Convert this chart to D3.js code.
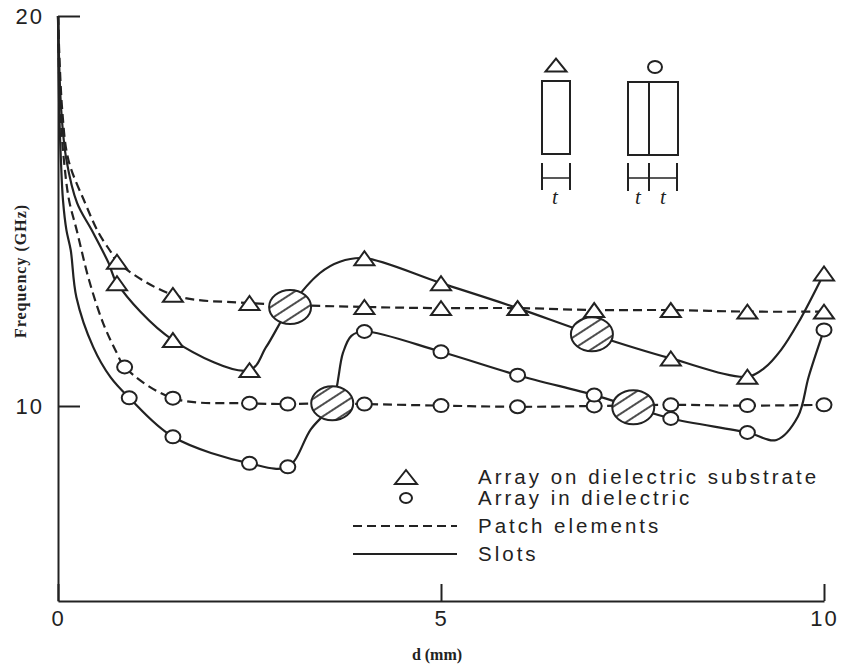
<!DOCTYPE html>
<html>
<head>
<meta charset="utf-8">
<script src="https://cdn.jsdelivr.net/npm/d3@7"></script>
<style>
  body { margin: 0; background: #fff; }
  .axis path, .axis line { stroke: #222; stroke-width: 2; }
  .axis text { font-family: "Liberation Sans", Arial, sans-serif; font-size: 22px; fill: #222; letter-spacing: 2px; }
</style>
</head>
<body>
<svg id="chart" width="841" height="666"></svg>
<script>

// Data

// Patch elements, array on dielectric substrate (dashed line, triangles)
var patchSubX = [0.77, 1.5, 2.5, 4, 5, 6, 7, 8, 9, 10];
var patchSubY = [13.70, 12.85, 12.64, 12.54, 12.51, 12.51, 12.46, 12.46, 12.42, 12.42];
var patchSubTraceX = [0, 0.055, 0.136, 0.355, 0.53, 0.70];
var patchSubTraceY = [20, 17.59, 16.31, 15.2, 14.44, 13.92];

// Slots, array on dielectric substrate (solid line, triangles)
var slotSubX = [0.77, 1.5, 2.5, 4, 5, 6, 8, 9, 10];
var slotSubY = [13.15, 11.69, 10.92, 13.79, 13.15, 12.51, 11.22, 10.75, 13.40];
var slotSubTraceX = [0, 0.042, 0.11, 0.25, 0.44, 0.66, 2.72, 3.03, 3.42, 3.68, 6.97, 9.22, 9.44, 9.66];
var slotSubTraceY = [20, 17.59, 16.31, 15.2, 14.51, 13.67, 11.52, 12.54, 13.41, 13.70, 11.84, 10.97, 11.44, 12.12];

// Patch elements, array in dielectric (dashed line, circles)
var patchInX = [0.87, 1.5, 2.5, 3, 4, 5, 6, 7, 8, 9, 10];
var patchInY = [11.0, 10.20, 10.07, 10.05, 10.05, 10.01, 9.98, 10.0, 10.03, 10.01, 10.03];
var patchInTraceX = [0, 0.029, 0.077, 0.144, 0.244, 0.405, 0.59, 0.77, 3.58];
var patchInTraceY = [20, 17.59, 16.31, 15.28, 14.51, 13.23, 12.12, 11.35, 10.07];

// Slots, array in dielectric (solid line, circles)
var slotInX = [0.93, 1.5, 2.5, 3, 4, 5, 6, 7, 8, 9, 10];
var slotInY = [10.21, 9.21, 8.53, 8.44, 11.91, 11.39, 10.79, 10.28, 9.68, 9.32, 11.95];
var slotInTraceX = [0, 0.016, 0.038, 0.065, 0.11, 0.166, 0.24, 0.46, 0.685, 3.3, 3.58, 3.72, 3.83, 7.51, 9.38, 9.66, 9.8];
var slotInTraceY = [20, 17.59, 16.31, 15.28, 14.51, 14.0, 12.79, 11.51, 10.74, 9.4, 10.07, 11.36, 11.8, 9.97, 9.13, 9.73, 10.75];

// Hatched crossing marks
var crossX = [3.03, 3.58, 6.97, 7.51];
var crossY = [12.54, 10.07, 11.84, 9.97];

// Axis ticks and labels
var xTicks = [0, 5, 10];
var yTicks = [10, 20];
var legendLabels = ["Array on dielectric substrate", "Array in dielectric", "Patch elements", "Slots"];

// Setup

var ink = "#222";
var svg = d3.select("#chart");

var x = d3.scaleLinear().domain([0, 10]).range([58, 824]);
var y = d3.scaleLinear().domain([5, 20]).range([601, 16]);

var defs = svg.append("defs");
var pat = defs.append("pattern")
    .attr("id", "hatch")
    .attr("patternUnits", "userSpaceOnUse")
    .attr("width", 20)
    .attr("height", 10)
    .attr("patternTransform", "rotate(-33)");
pat.append("rect").attr("width", 20).attr("height", 10).attr("fill", "#fff");
pat.append("line")
    .attr("x1", 0).attr("x2", 20).attr("y1", 5).attr("y2", 5)
    .attr("stroke", ink).attr("stroke-width", 1.6);

function merge(mx, my, tx, ty) {
  var pts = mx.map(function(v, i) { return [v, my[i], true]; })
    .concat(tx.map(function(v, i) { return [v, ty[i], false]; }));
  pts.sort(function(a, b) { return a[0] - b[0]; });
  return pts;
}

var series = [
  { pts: merge(patchSubX, patchSubY, patchSubTraceX, patchSubTraceY), dashed: true,  mark: "tri" },
  { pts: merge(slotSubX,  slotSubY,  slotSubTraceX,  slotSubTraceY),  dashed: false, mark: "tri" },
  { pts: merge(patchInX,  patchInY,  patchInTraceX,  patchInTraceY),  dashed: true,  mark: "circ" },
  { pts: merge(slotInX,   slotInY,   slotInTraceX,   slotInTraceY),   dashed: false, mark: "circ" }
];

var line = d3.line()
    .x(function(d) { return x(d[0]); })
    .y(function(d) { return y(d[1]); })
    .curve(d3.curveCatmullRom.alpha(0.5));

// marker helpers, size = [half width, half height]
function drawMark(g, type, cx, cy, size) {
  if (type === "tri") {
    var w = size[0], h = size[1];
    g.append("path")
      .attr("d", "M" + (cx - w) + "," + (cy + h) + "L" + (cx + w) + "," + (cy + h) + "L" + cx + "," + (cy - h) + "Z")
      .attr("fill", "#fff").attr("stroke", ink).attr("stroke-width", 2);
  } else {
    g.append("ellipse")
      .attr("cx", cx).attr("cy", cy)
      .attr("rx", size[0]).attr("ry", size[1])
      .attr("fill", "#fff").attr("stroke", ink).attr("stroke-width", 2);
  }
}

// Axes

var yAxis = d3.axisLeft(y).tickValues(yTicks).tickSize(-22).tickSizeOuter(0).tickPadding(14).tickFormat(d3.format("d"));
var xAxis = d3.axisBottom(x).tickValues(xTicks).tickSize(-17).tickSizeOuter(0).tickPadding(9).tickFormat(d3.format("d"));

svg.append("g").attr("class", "axis").attr("transform", "translate(58,0)").call(yAxis);
svg.append("g").attr("class", "axis").attr("transform", "translate(0,601)").call(xAxis);

svg.append("text")
    .attr("transform", "translate(26,271) rotate(-90)")
    .attr("text-anchor", "middle")
    .style("font-family", "'Liberation Serif', 'Times New Roman', serif")
    .style("font-weight", "bold")
    .style("font-size", "16px")
    .style("letter-spacing", "1px")
    .attr("fill", ink)
    .text("Frequency (GHz)");

svg.append("text")
    .attr("x", 437).attr("y", 660)
    .attr("text-anchor", "middle")
    .style("font-family", "'Liberation Serif', 'Times New Roman', serif")
    .style("font-weight", "bold")
    .style("font-size", "16px")
    .attr("fill", ink)
    .text("d (mm)");

// Curves

var plot = svg.append("g");

series.forEach(function(s) {
  plot.append("path")
    .attr("d", line(s.pts))
    .attr("fill", "none")
    .attr("stroke", ink)
    .attr("stroke-width", 2.2)
    .attr("stroke-dasharray", s.dashed ? "9,5" : null);
});

// hatched crossings
plot.selectAll(".cross")
  .data(crossX)
  .enter()
  .append("ellipse")
    .attr("class", "cross")
    .attr("cx", function(d) { return x(d); })
    .attr("cy", function(d, i) { return y(crossY[i]); })
    .attr("rx", 21)
    .attr("ry", 17)
    .attr("fill", "url(#hatch)")
    .attr("stroke", ink)
    .attr("stroke-width", 2);

// markers
series.forEach(function(s) {
  s.pts.filter(function(p) { return p[2]; }).forEach(function(p) {
    drawMark(plot, s.mark, x(p[0]), y(p[1]), s.mark === "tri" ? [10, 7] : [7.5, 6.5]);
  });
});

// Legend

var leg = svg.append("g");
var legText = [484, 505, 533, 561];

drawMark(leg, "tri", 406, 477, [11, 7]);
drawMark(leg, "circ", 406, 498, [6, 5]);
leg.append("line").attr("x1", 353).attr("x2", 457).attr("y1", 526).attr("y2", 526)
    .attr("stroke", ink).attr("stroke-width", 2).attr("stroke-dasharray", "9,5");
leg.append("line").attr("x1", 353).attr("x2", 457).attr("y1", 554).attr("y2", 554)
    .attr("stroke", ink).attr("stroke-width", 2);

leg.selectAll(".lab")
  .data(legendLabels)
  .enter()
  .append("text")
    .attr("class", "lab")
    .attr("x", 478)
    .attr("y", function(d, i) { return legText[i]; })
    .style("font-family", "'Liberation Sans', Arial, sans-serif")
    .style("font-size", "20.5px")
    .style("letter-spacing", "3px")
    .attr("fill", ink)
    .text(function(d) { return d; });

// Inset sketch (the two array cross sections)

var inset = svg.append("g").attr("fill", "none").attr("stroke", ink).attr("stroke-width", 2);

drawMark(svg, "tri", 556, 65, [10.5, 6.5]);
inset.append("rect").attr("x", 542).attr("y", 81).attr("width", 28).attr("height", 73);
[542, 570].forEach(function(px) {
  inset.append("line").attr("x1", px).attr("x2", px).attr("y1", 163).attr("y2", 190);
});
inset.append("line").attr("x1", 542).attr("x2", 570).attr("y1", 178).attr("y2", 178).attr("stroke-width", 1.5);

drawMark(svg, "circ", 655, 67, [7, 6]);
inset.append("rect").attr("x", 628).attr("y", 82).attr("width", 50).attr("height", 73);
inset.append("line").attr("x1", 649).attr("x2", 649).attr("y1", 82).attr("y2", 155);
[628, 649, 677].forEach(function(px) {
  inset.append("line").attr("x1", px).attr("x2", px).attr("y1", 163).attr("y2", 191);
});
inset.append("line").attr("x1", 628).attr("x2", 677).attr("y1", 178).attr("y2", 178).attr("stroke-width", 1.5);

[555, 638, 663].forEach(function(px) {
  svg.append("text")
    .attr("x", px).attr("y", 204)
    .attr("text-anchor", "middle")
    .style("font-family", "'Liberation Serif', 'Times New Roman', serif")
    .style("font-style", "italic")
    .style("font-size", "21px")
    .attr("fill", ink)
    .text("t");
});

</script>
</body>
</html>
